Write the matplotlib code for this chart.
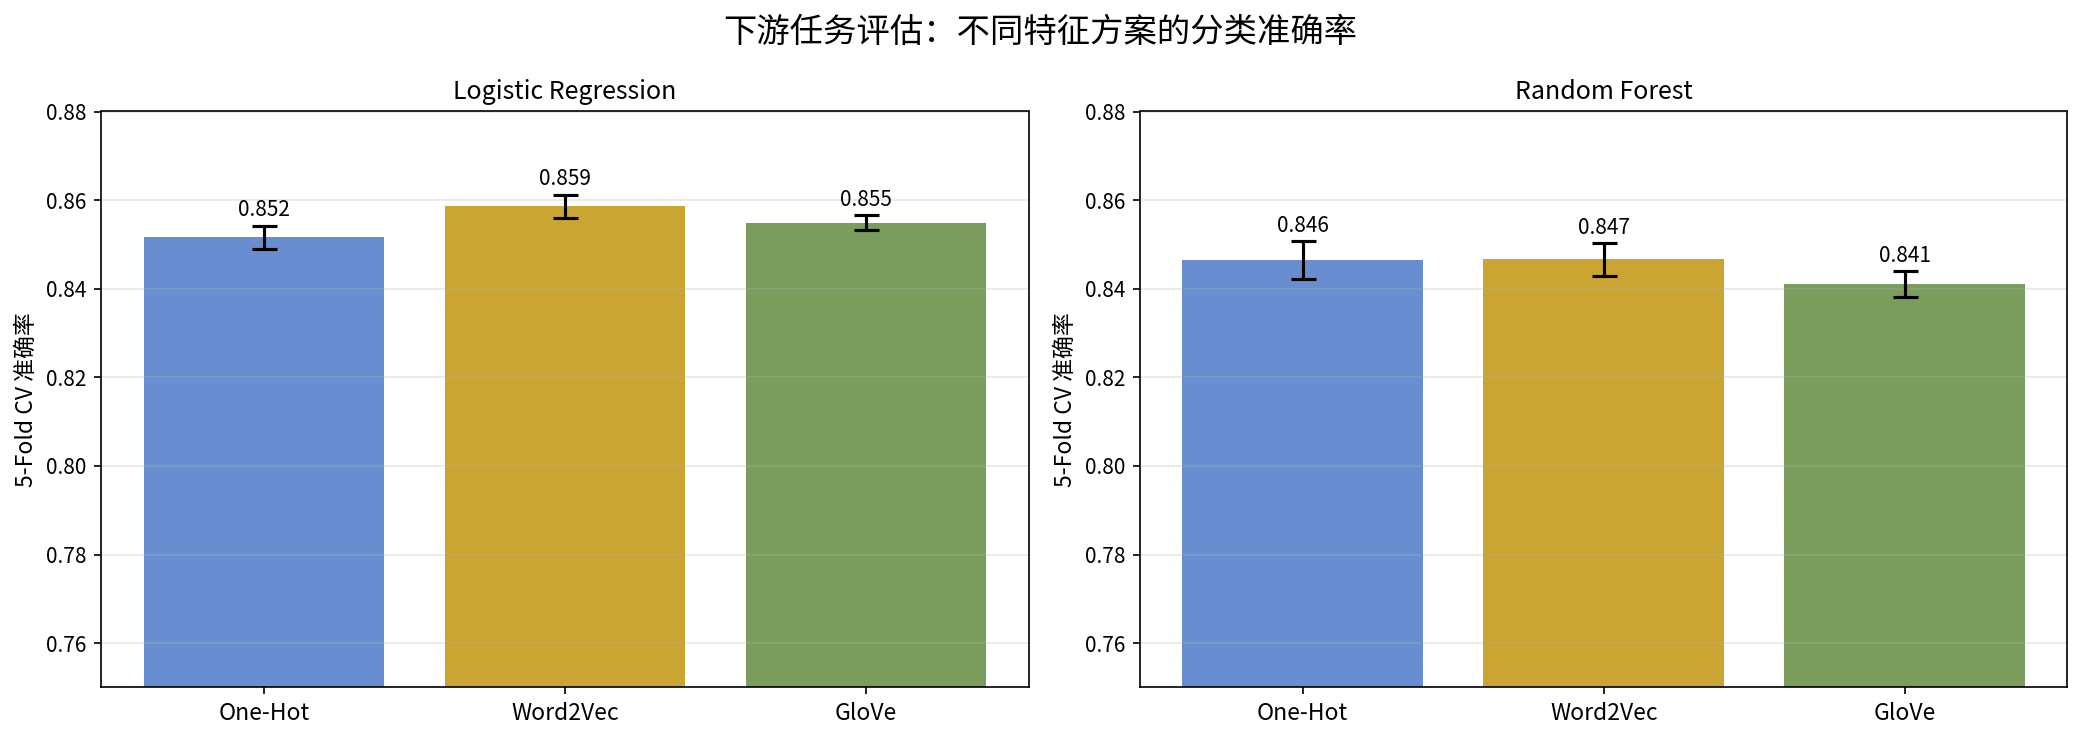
import numpy as np
import matplotlib
matplotlib.use('Agg')
import matplotlib.pyplot as plt

plt.rcParams['font.family'] = ['Noto Sans CJK SC', 'DejaVu Sans']
plt.rcParams['axes.unicode_minus'] = False

# feature schemes and 5-fold CV accuracy (mean, std) per classifier
features = ['One-Hot', 'Word2Vec', 'GloVe']
lr_mean = [0.8516, 0.8586, 0.8549]
lr_std = [0.0026, 0.0026, 0.0017]
rf_mean = [0.8464, 0.8466, 0.8410]
rf_std = [0.0043, 0.0037, 0.0029]
model_names = ['Logistic Regression', 'Random Forest']

colors = ['#4472C4', '#BF8F00', '#598536']

fig, axes = plt.subplots(1, 2, figsize=(14, 5))
fig.suptitle('下游任务评估：不同特征方案的分类准确率', fontsize=16)

x = np.arange(len(features))
for ax, name, means, stds in zip(axes, model_names, [lr_mean, rf_mean], [lr_std, rf_std]):
    ax.bar(x, means, yerr=stds, capsize=6, color=colors, alpha=0.8, width=0.8,
           error_kw={'elinewidth': 1.5, 'capthick': 1.5})
    for xi, m, s in zip(x, means, stds):
        ax.text(xi, m + s + 0.001, f'{m:.3f}', ha='center', va='bottom', fontsize=10)
    ax.set_xticks(x)
    ax.set_xticklabels(features, fontsize=11)
    ax.set_ylabel('5-Fold CV 准确率', fontsize=11)
    ax.set_title(name, fontsize=12)
    ax.set_ylim(0.75, 0.88)
    ax.set_yticks(np.arange(0.76, 0.881, 0.02))
    ax.grid(axis='y', alpha=0.3)

plt.tight_layout()
plt.savefig('out.png', dpi=150, bbox_inches='tight')
